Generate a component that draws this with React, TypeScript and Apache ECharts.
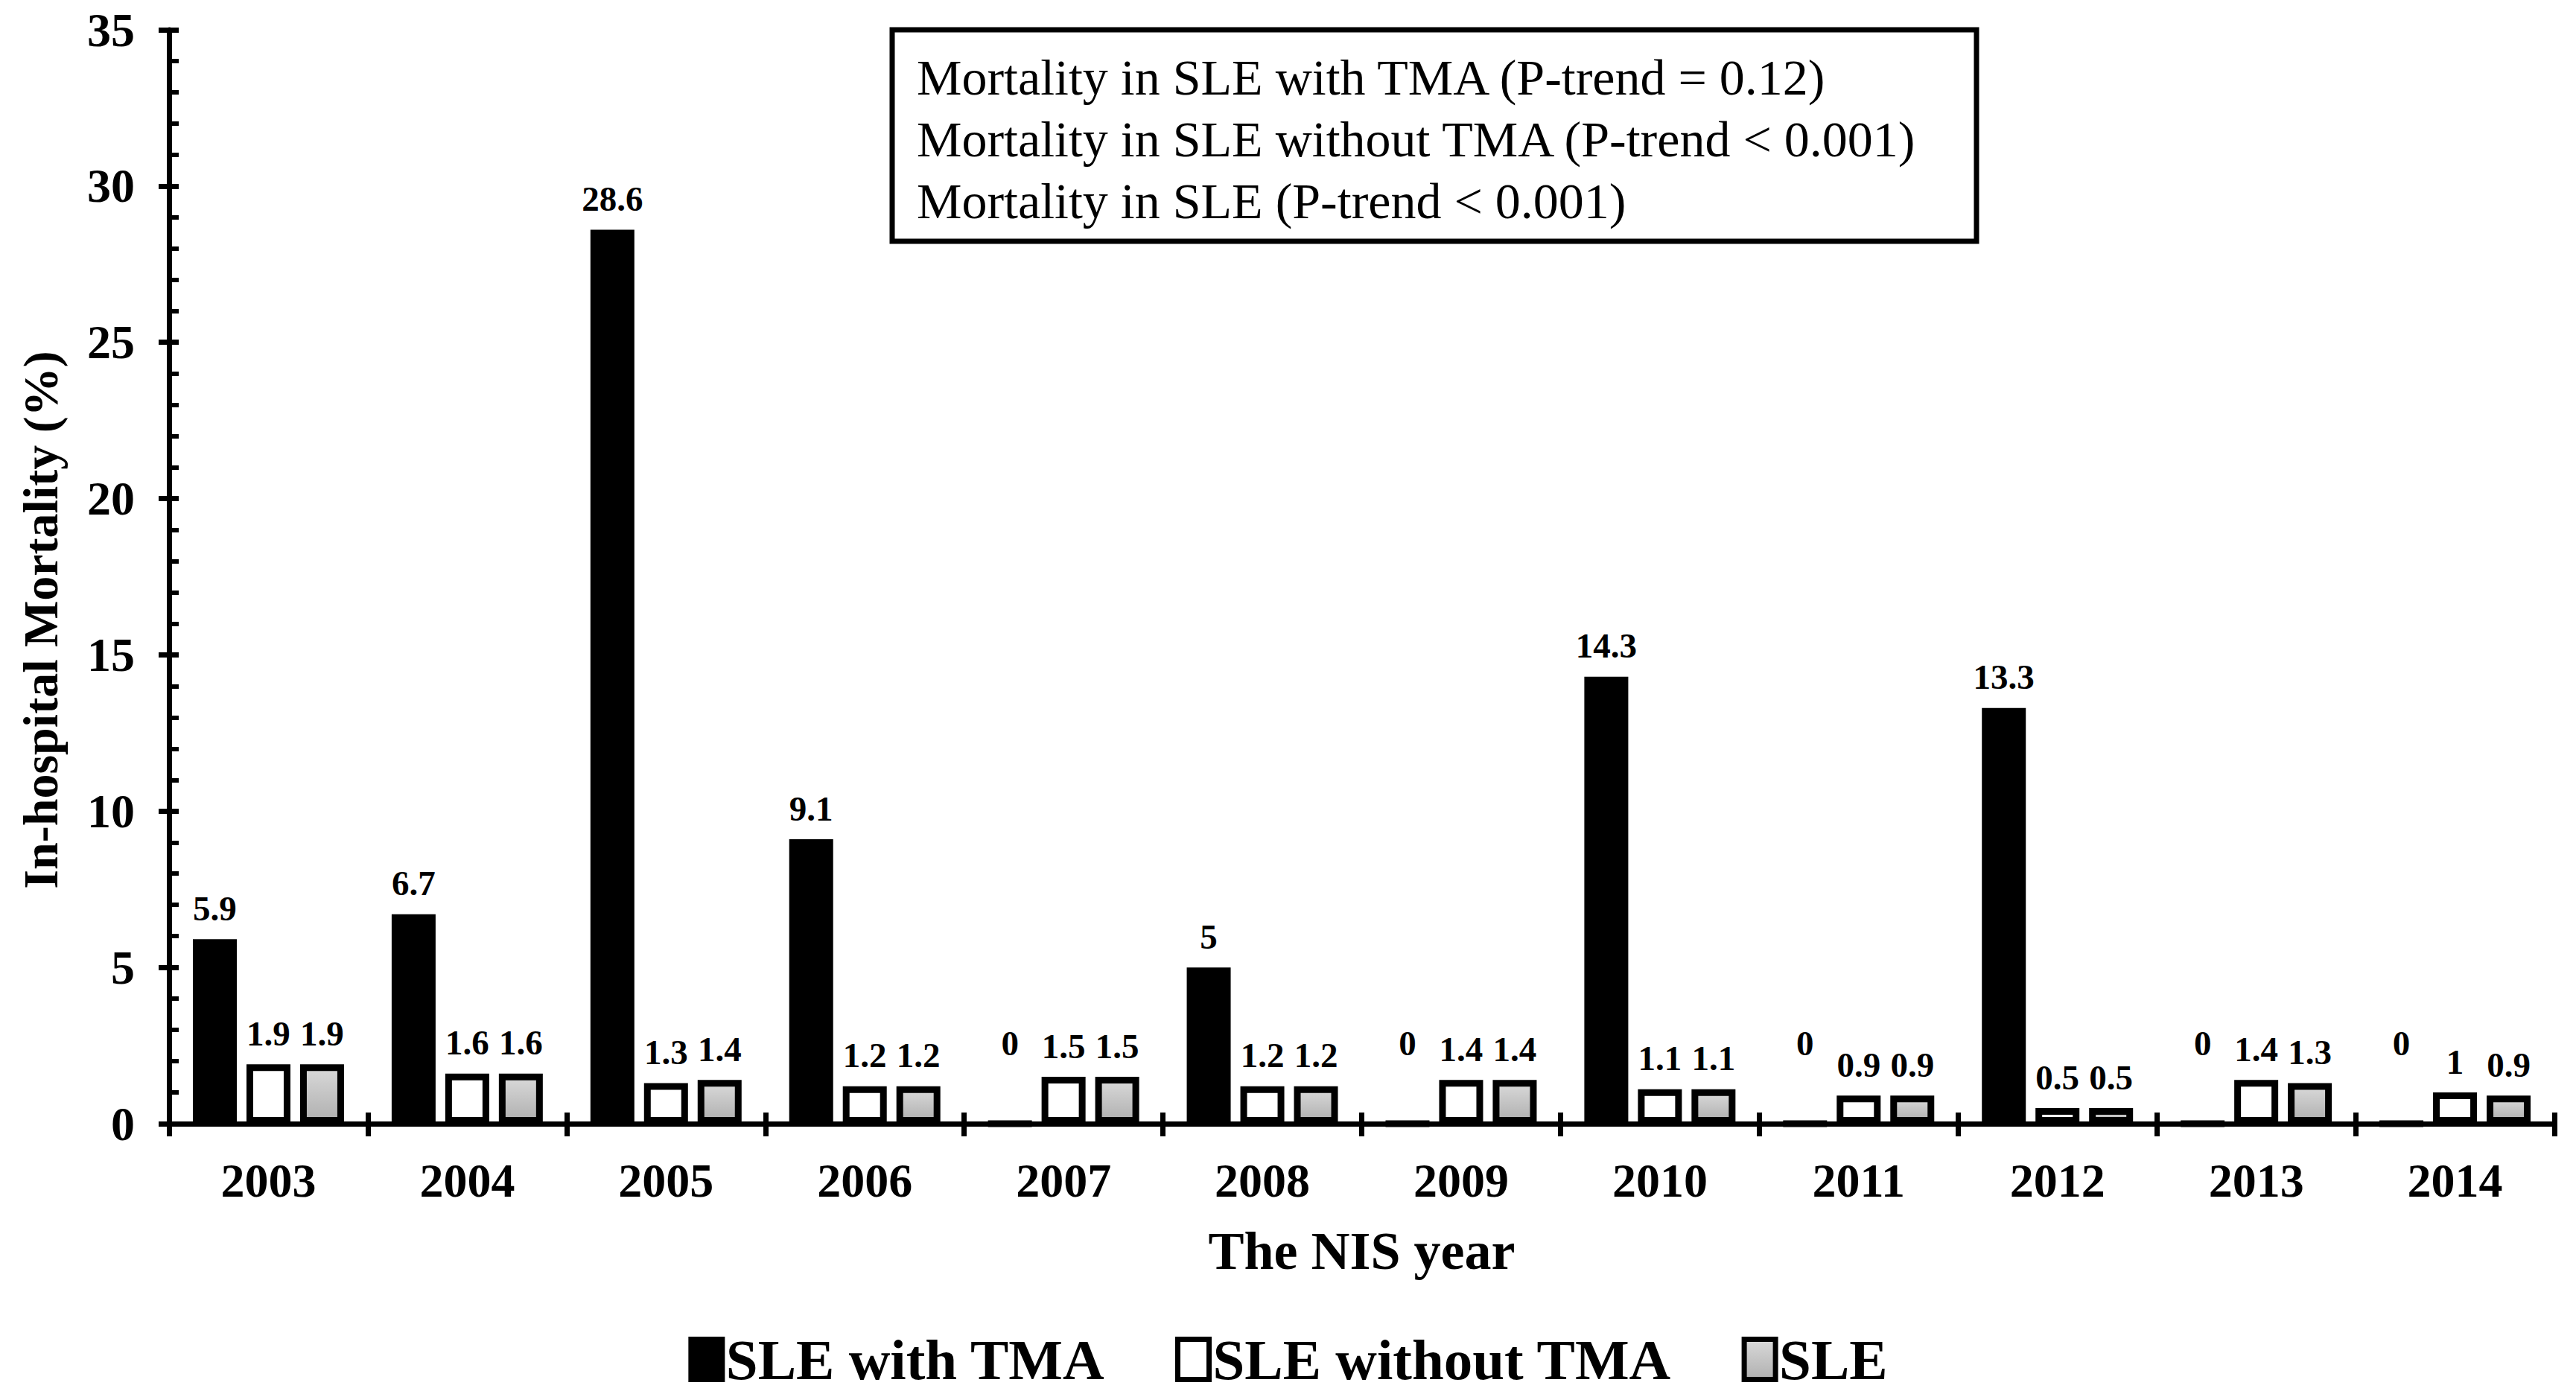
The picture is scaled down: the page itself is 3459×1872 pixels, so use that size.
import React, { useEffect, useRef } from "react";
import * as echarts from "echarts";

const years = ["2003", "2004", "2005", "2006", "2007", "2008", "2009", "2010", "2011", "2012", "2013", "2014"];
const withTMA = [5.9, 6.7, 28.6, 9.1, 0, 5, 0, 14.3, 0, 13.3, 0, 0];
const withoutTMA = [1.9, 1.6, 1.3, 1.2, 1.5, 1.2, 1.4, 1.1, 0.9, 0.5, 1.4, 1];
const sle = [1.9, 1.6, 1.4, 1.2, 1.5, 1.2, 1.4, 1.1, 0.9, 0.5, 1.3, 0.9];
const seriesNames = ["SLE with TMA", "SLE without TMA", "SLE"];
const noteLines = [
  "Mortality in SLE with TMA (P-trend = 0.12)",
  "Mortality in SLE without TMA (P-trend < 0.001)",
  "Mortality in SLE (P-trend < 0.001)",
];

const FONT = "'Liberation Serif', 'Times New Roman', serif";

function mkData(arr: number[]) {
  return arr.map((v) => (v === 0 ? { value: v, label: { offset: [0, -62] } } : v));
}

export default function App() {
  const ref = useRef<HTMLDivElement>(null);
  useEffect(() => {
    document.body.style.margin = "0";
    const chart = echarts.init(ref.current!, null, { renderer: "svg" });
    const labelStyle = {
      show: true,
      position: "top",
      distance: 18,
      fontFamily: FONT,
      fontWeight: "bold",
      fontSize: 47,
      color: "#000",
    };
    const barCommon = {
      type: "bar",
      barWidth: 59,
      barGap: "22%",
      label: labelStyle,
    };
    const gray = new echarts.graphic.LinearGradient(0, 0, 0, 1, [
      { offset: 0, color: "#d9d9d9" },
      { offset: 1, color: "#b0b0b0" },
    ]);
    const tickLine = { color: "#000", width: 7 };
    chart.setOption({
      animation: false,
      backgroundColor: "#fff",
      grid: { left: 227, right: 29, top: 40, bottom: 363, containLabel: false },
      xAxis: [
        {
          type: "category",
          data: years,
          position: "bottom",
          axisLine: { show: true, lineStyle: { color: "#000", width: 7 } },
          axisTick: { show: true, length: 17, interval: 0, alignWithLabel: false, lineStyle: tickLine },
          axisLabel: { interval: 0, fontFamily: FONT, fontWeight: "bold", fontSize: 64, color: "#000", margin: 44 },
          name: "The NIS year",
          nameLocation: "middle",
          nameGap: 135,
          nameTextStyle: { fontFamily: FONT, fontWeight: "bold", fontSize: 72, color: "#000" },
          splitLine: { show: false },
        },
        {
          type: "category",
          data: years,
          position: "bottom",
          offset: 0,
          axisLine: { show: false },
          axisTick: { show: true, inside: true, length: 15, interval: 0, alignWithLabel: false, lineStyle: tickLine },
          axisLabel: { show: false },
          splitLine: { show: false },
        },
      ],
      yAxis: [
        {
          type: "value",
          min: 0,
          max: 35,
          interval: 5,
          position: "left",
          axisLine: { show: true, lineStyle: { color: "#000", width: 7 } },
          axisTick: { show: true, length: 14, lineStyle: tickLine },
          axisLabel: { fontFamily: FONT, fontWeight: "bold", fontSize: 64, color: "#000", margin: 46 },
          splitLine: { show: false },
          name: "In-hospital Mortality (%)",
          nameLocation: "middle",
          nameGap: 140,
          nameTextStyle: { fontFamily: FONT, fontWeight: "bold", fontSize: 66, color: "#000", padding: [0, 116, 0, 0] },
        },
        {
          type: "value",
          min: 0,
          max: 35,
          interval: 5,
          position: "left",
          offset: 0,
          axisLine: { show: false },
          axisTick: { show: true, inside: true, length: 13, lineStyle: tickLine },
          minorTick: { show: true, splitNumber: 5, length: 13, lineStyle: { color: "#000", width: 6 } },
          axisLabel: { show: false },
          splitLine: { show: false },
        },
      ],
      legend: {
        data: seriesNames,
        left: "center",
        top: 1782,
        icon: "rect",
        itemWidth: 42,
        itemHeight: 54,
        itemGap: 94,
        textStyle: { fontFamily: FONT, fontWeight: "bold", fontSize: 77, color: "#000" },
        itemStyle: { borderColor: "#000", borderWidth: 7 },
      },
      graphic: [
        {
          type: "rect",
          z: 100,
          shape: { x: 1198, y: 40, width: 1456, height: 284 },
          style: { fill: "#fff", stroke: "#000", lineWidth: 7 },
        },
        ...noteLines.map((t, i) => ({
          type: "text",
          z: 101,
          x: 1231,
          y: 104 + i * 83,
          style: { text: t, fontFamily: FONT, fontSize: 68, fill: "#000", verticalAlign: "middle", align: "left" },
        })),
      ],
      series: [
        {
          ...barCommon,
          name: seriesNames[0],
          data: mkData(withTMA),
          itemStyle: { color: "#000", borderColor: "#000", borderWidth: 9 },
        },
        {
          ...barCommon,
          name: seriesNames[1],
          data: mkData(withoutTMA),
          itemStyle: { color: "#fff", borderColor: "#000", borderWidth: 9 },
        },
        {
          ...barCommon,
          name: seriesNames[2],
          data: mkData(sle),
          itemStyle: { color: gray, borderColor: "#000", borderWidth: 9 },
        },
      ],
    });
    return () => chart.dispose();
  }, []);
  return <div ref={ref} style={{ position: "fixed", left: 0, top: 0, width: 3459, height: 1872 }} />;
}
